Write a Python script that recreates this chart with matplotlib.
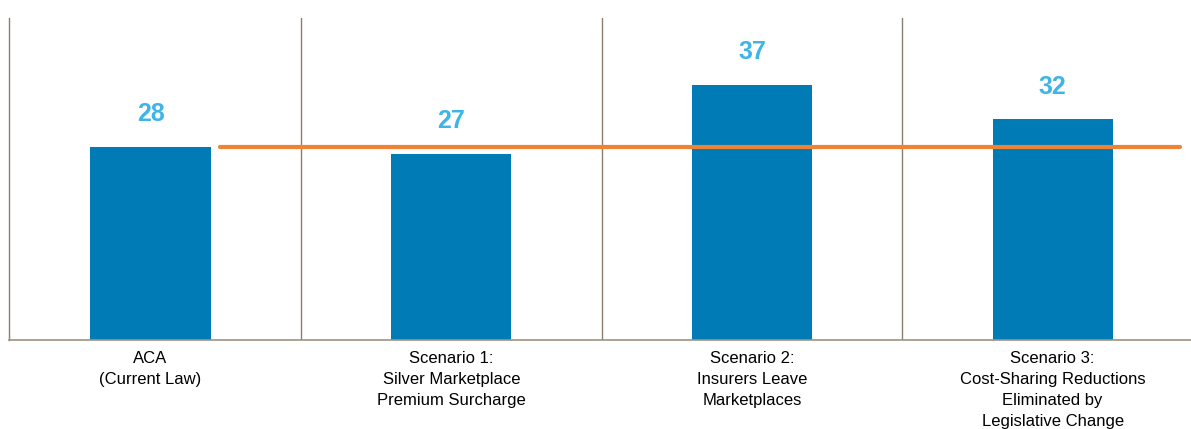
import numpy as np
import matplotlib.pyplot as plt

plt.rcParams['font.family'] = ['Liberation Sans', 'DejaVu Sans']

categories = ['ACA\n(Current Law)',
              'Scenario 1:\nSilver Marketplace\nPremium Surcharge',
              'Scenario 2:\nInsurers Leave\nMarketplaces',
              'Scenario 3:\nCost-Sharing Reductions\nEliminated by\nLegislative Change']
values = [28, 27, 37, 32]
baseline = 28

bar_color = '#007BB6'
label_color = '#3DB5E6'
line_color = '#F08234'
rule_color = '#8C7D6E'

fig = plt.figure(figsize=(11.91, 4.29), dpi=100)
ax = fig.add_axes([0.0076, 0.2075, 0.9924, 0.7505])

x = np.arange(len(values))
bars = ax.bar(x, values, width=0.4, color=bar_color, zorder=2)

for xi, v in zip(x, values):
    ax.annotate(str(v), (xi, v), xytext=(0, 15), textcoords='offset points',
                ha='center', va='bottom', fontsize=18, fontweight='bold',
                color=label_color)

# reference line at current-law level
ax.axhline(baseline, xmin=0.1785, xmax=0.9907, color=line_color, lw=3,
           solid_capstyle='round', zorder=3)

# section dividers
for d in x[:-1] + 0.5:
    ax.axvline(d, color=rule_color, lw=1, zorder=1)

ax.set_xlim(-0.4706, 3.46)
ax.set_ylim(0, 46.7)

for s in ['top', 'right']:
    ax.spines[s].set_visible(False)
ax.spines['left'].set_color(rule_color)
ax.spines['bottom'].set_color('#A09383')
ax.spines['left'].set_linewidth(1)
ax.spines['bottom'].set_linewidth(1.2)

ax.set_yticks([])
ax.set_xticks(x)
ax.set_xticklabels(categories, fontsize=12, linespacing=1.5, va='top')
ax.tick_params(axis='x', length=0, pad=8)

fig.savefig('out.png', dpi=100)
